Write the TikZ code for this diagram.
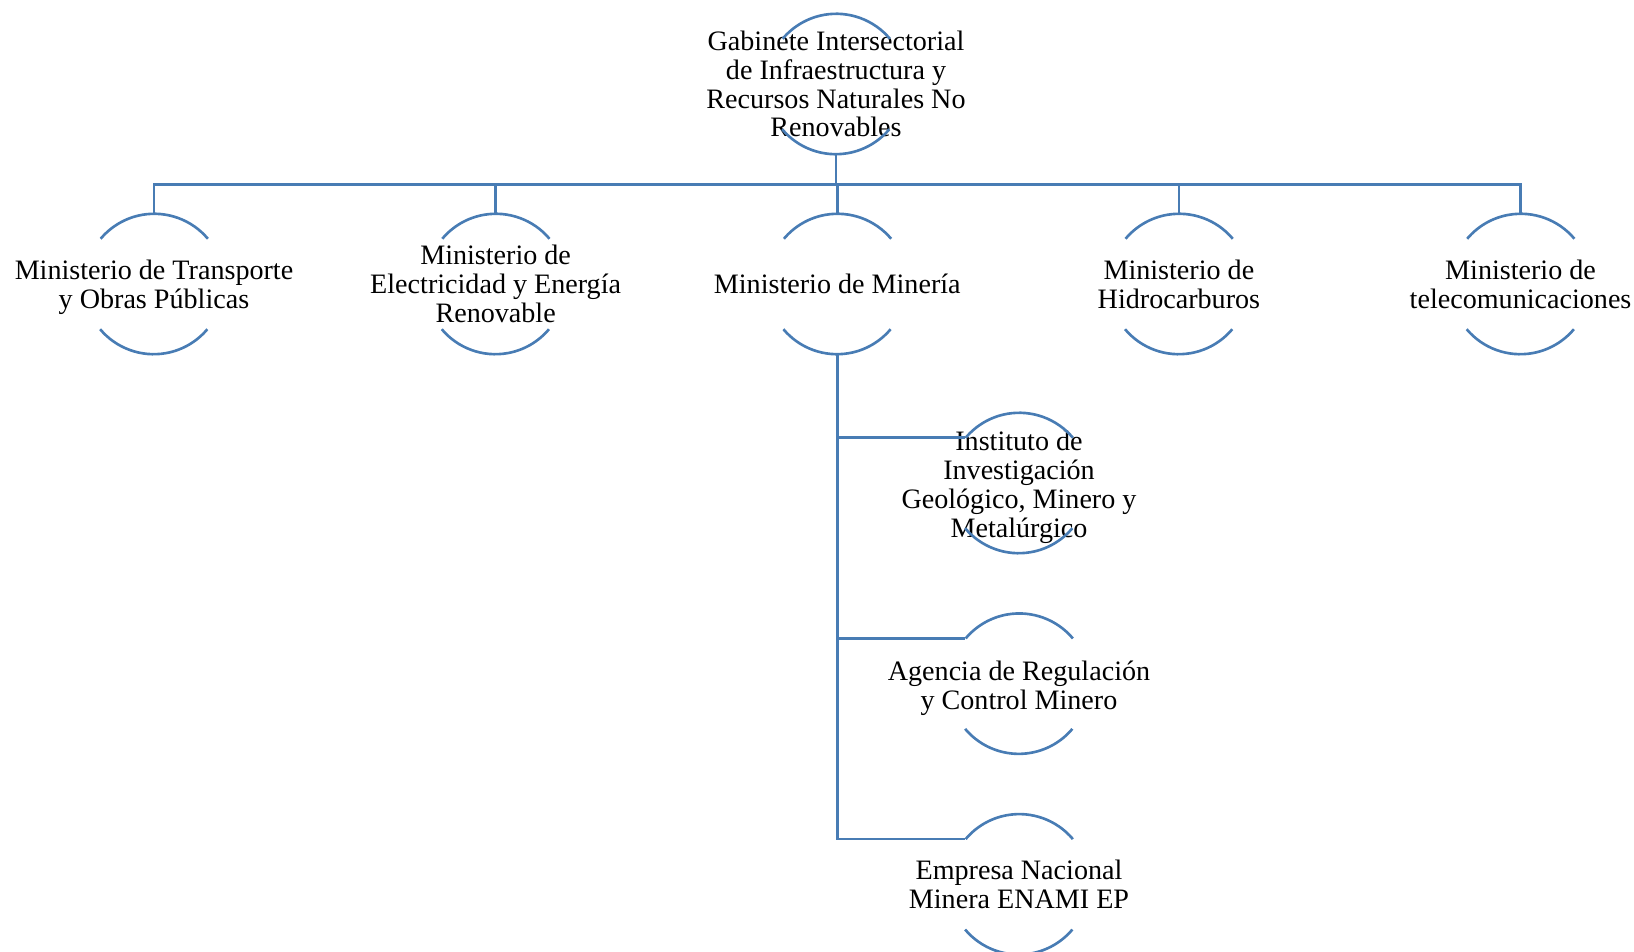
\documentclass[tikz,border=0pt]{standalone}
\usepackage{fontspec}
\setmainfont{Liberation Serif}
\usetikzlibrary{positioning}
\definecolor{OrgBlue}{RGB}{72,124,180}

\begin{document}
\begin{tikzpicture}[x=0.02cm, y=-0.02cm, node distance=4.02cm,
every label/.style={font=\fontsize{16}{16.4}\selectfont, align=center, inner sep=0pt},
ring/.style={circle, minimum size=2.8cm, inner sep=0pt},
arcline/.style={draw=OrgBlue, line width=1.5pt},
link/.style={draw=OrgBlue, line width=1.5pt}]
\useasboundingbox (0,0) rectangle (1634,952);
% head
\node[ring, label={center:{Gabinete Intersectorial\\de Infraestructura y\\Recursos Naturales No\\Renovables}}] (gab) at (836,84) {};
% ministries
\node[ring, label={[yshift=-0.06cm]center:{Ministerio de Transporte\\y Obras Públicas}}] (trans) at (154,284) {};
\node[ring, right=of trans, label={center:{Ministerio de\\Electricidad y Energía\\Renovable}}] (elec) {};
\node[ring, right=of elec, label={center:{Ministerio de Minería}}] (min) {};
\node[ring, right=of min, label={center:{Ministerio de\\Hidrocarburos}}] (hidro) {};
\node[ring, right=of hidro, label={center:{Ministerio de\\telecomunicaciones}}] (tele) {};
% attached to mining
\node[ring, label={[yshift=-0.09cm]center:{Instituto de\\Investigación\\Geológico, Minero y\\Metalúrgico}}] (inigemm) at (1019,483) {};
\node[ring, below=1.2cm of inigemm, label={[yshift=-0.09cm]center:{Agencia de Regulación\\y Control Minero}}] (arcom) {};
\node[ring, below=1.2cm of arcom, label={center:{Empresa Nacional\\Minera ENAMI EP}}] (enami) {};
% open circles
\foreach \n in {gab,trans,elec,min,hidro,tele,inigemm,arcom,enami}
  \draw[arcline] (\n.40) arc[start angle=40, end angle=140, radius=1.4cm]
                 (\n.220) arc[start angle=220, end angle=320, radius=1.4cm];
% connectors
\foreach \n in {trans,elec,min,hidro,tele}
  \draw[link] (gab.south) -- ++(0,30) -| (\n.north);
\foreach \n in {inigemm,arcom,enami}
  \draw[link] (min.south) |- (\n.140);
\end{tikzpicture}
\end{document}
